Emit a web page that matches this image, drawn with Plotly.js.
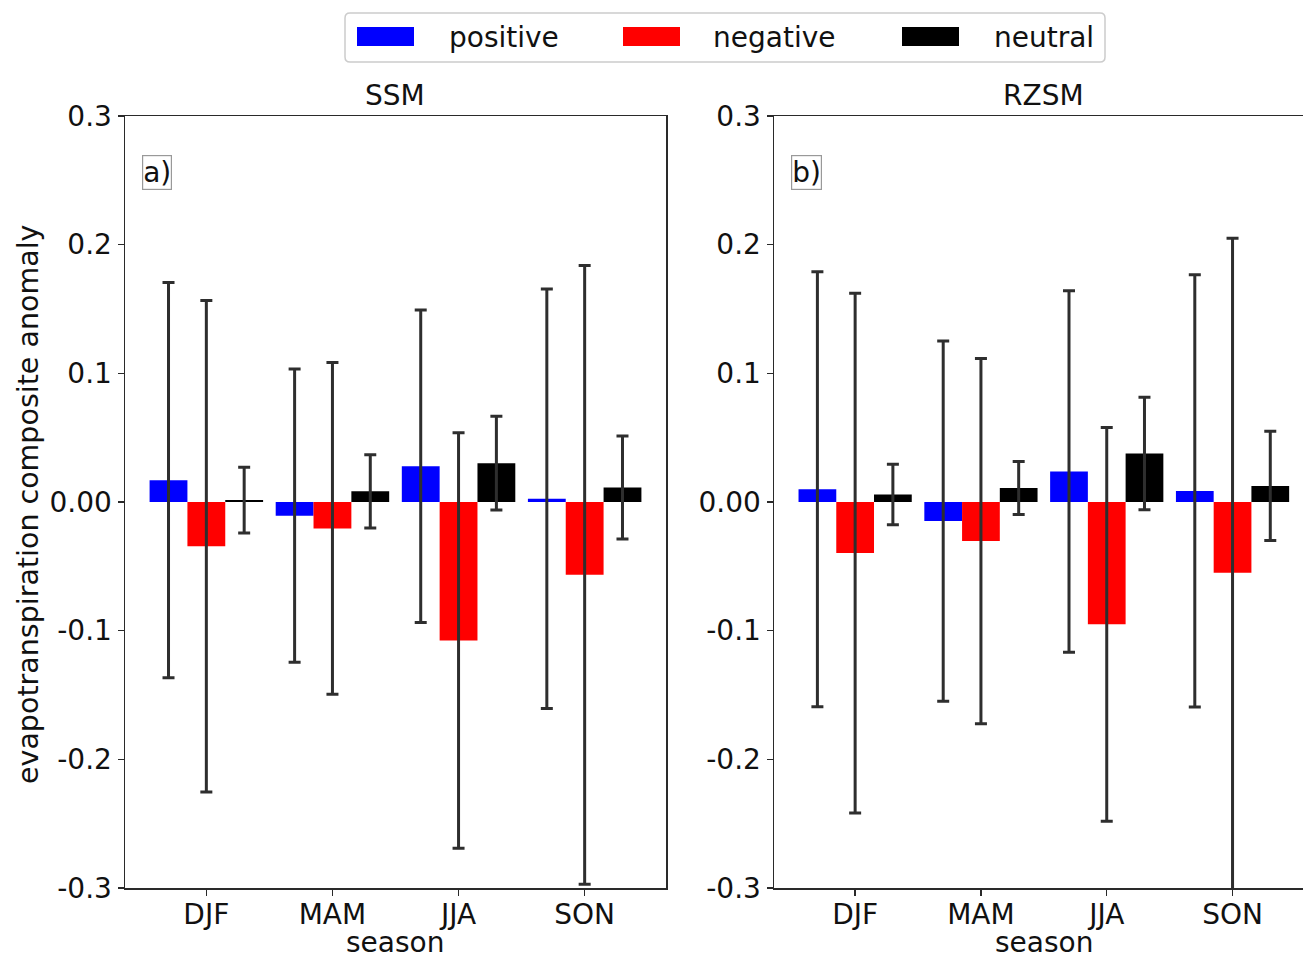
<!DOCTYPE html>
<html>
<head>
<meta charset="utf-8">
<script src="https://cdn.plot.ly/plotly-3.0.1.min.js"></script>
<style>
  html, body { margin: 0; padding: 0; background: #ffffff; }
  #chart { width: 1303px; height: 959px; }
</style>
</head>
<body>
<div id="chart"></div>
<script>
// Seasons on the x axis
const seasons = ["DJF", "MAM", "JJA", "SON"];

// Composite anomalies of evapotranspiration, surface soil moisture (SSM) panel
const ssmPositive = [0.017, -0.0106, 0.0278, 0.0026];
const ssmNegative = [-0.0343, -0.0205, -0.1076, -0.0566];
const ssmNeutral  = [0.0015, 0.0083, 0.0302, 0.0112];
const ssmPositiveErr = [0.1535, 0.114, 0.1215, 0.163];
const ssmNegativeErr = [0.191, 0.129, 0.1615, 0.2405];
const ssmNeutralErr  = [0.0256, 0.0285, 0.0365, 0.040];

// Root-zone soil moisture (RZSM) panel
const rzsmPositive = [0.0099, -0.0148, 0.0237, 0.0086];
const rzsmNegative = [-0.0397, -0.0304, -0.0951, -0.055];
const rzsmNeutral  = [0.0058, 0.0109, 0.0377, 0.0125];
const rzsmPositiveErr = [0.169, 0.140, 0.1405, 0.168];
const rzsmNegativeErr = [0.202, 0.142, 0.153, 0.26];
const rzsmNeutralErr  = [0.0235, 0.0206, 0.0438, 0.0424];

// Y tick labels
const yTickVals = [-0.3, -0.2, -0.1, 0, 0.1, 0.2, 0.3];
const yTickText = ["-0.3", "-0.2", "-0.1", "0.00", "0.1", "0.2", "0.3"];

const groups = [
  { name: "positive", color: "#0000ff" },
  { name: "negative", color: "#ff0000" },
  { name: "neutral",  color: "#000000" }
];

const W = 1303, H = 959;
const px = x => x / W;          // pixel column -> paper x
const py = y => 1 - y / H;      // pixel row -> paper y

const FONT = "DejaVu Sans, Verdana, sans-serif";
const FS = 28;
const AXC = "#2a2a2a";
const TXT = "#111111";

function barTrace(name, color, y, err, xa, ya) {
  return {
    type: "bar",
    name: name,
    x: seasons,
    y: y,
    xaxis: xa,
    yaxis: ya,
    marker: { color: color, line: { width: 0 } },
    error_y: { type: "data", array: err, visible: true, color: "#2e2e2e", thickness: 3, width: 6 },
    showlegend: false,
    hoverinfo: "x+y+name"
  };
}

const data = [
  barTrace("positive", groups[0].color, ssmPositive, ssmPositiveErr, "x", "y"),
  barTrace("negative", groups[1].color, ssmNegative, ssmNegativeErr, "x", "y"),
  barTrace("neutral",  groups[2].color, ssmNeutral,  ssmNeutralErr,  "x", "y"),
  barTrace("positive", groups[0].color, rzsmPositive, rzsmPositiveErr, "x2", "y2"),
  barTrace("negative", groups[1].color, rzsmNegative, rzsmNegativeErr, "x2", "y2"),
  barTrace("neutral",  groups[2].color, rzsmNeutral,  rzsmNeutralErr,  "x2", "y2")
];

const yDomain = [py(888), py(116)];

const xCommon = {
  type: "category",
  showgrid: false,
  zeroline: false,
  showline: true,
  linecolor: AXC,
  linewidth: 1.5,
  ticks: "outside",
  ticklen: 6,
  tickwidth: 1.5,
  tickcolor: AXC,
  ticklabelstandoff: -5,
  tickfont: { family: FONT, size: FS, color: TXT },
  mirror: true,
  fixedrange: true
};
const yCommon = {
  range: [-0.3, 0.3],
  domain: yDomain,
  tickvals: yTickVals,
  ticktext: yTickText,
  showgrid: false,
  zeroline: false,
  showline: true,
  linecolor: AXC,
  linewidth: 1.5,
  ticks: "outside",
  ticklen: 6,
  tickwidth: 1.5,
  tickcolor: AXC,
  tickfont: { family: FONT, size: FS, color: TXT },
  fixedrange: true
};

// Legend drawn as shapes and text across the top
const legendBox = { x0: 345, x1: 1105, y0: 13, y1: 62, r: 5 };
function roundedRect(b) {
  const x0 = px(b.x0), x1 = px(b.x1), y0 = py(b.y1), y1 = py(b.y0);
  const rx = b.r / W, ry = b.r / H;
  return "M" + (x0 + rx) + "," + y0 +
    " L" + (x1 - rx) + "," + y0 +
    " Q" + x1 + "," + y0 + " " + x1 + "," + (y0 + ry) +
    " L" + x1 + "," + (y1 - ry) +
    " Q" + x1 + "," + y1 + " " + (x1 - rx) + "," + y1 +
    " L" + (x0 + rx) + "," + y1 +
    " Q" + x0 + "," + y1 + " " + x0 + "," + (y1 - ry) +
    " L" + x0 + "," + (y0 + ry) +
    " Q" + x0 + "," + y0 + " " + (x0 + rx) + "," + y0 + " Z";
}
const legendSwatchX = [357, 623, 902];
const legendTextX = [447, 711, 992];

const shapes = [
  { type: "path", xref: "paper", yref: "paper", path: roundedRect(legendBox),
    line: { color: "#cccccc", width: 1.5 }, fillcolor: "rgba(255,255,255,0.8)" }
];
const annotations = [];
groups.forEach((g, i) => {
  shapes.push({
    type: "rect", xref: "paper", yref: "paper",
    x0: px(legendSwatchX[i]), x1: px(legendSwatchX[i] + 57),
    y0: py(46), y1: py(27),
    fillcolor: g.color, line: { width: 0 }
  });
  annotations.push({
    xref: "paper", yref: "paper", x: px(legendTextX[i]), y: py(38),
    xanchor: "left", yanchor: "middle", showarrow: false,
    text: g.name, font: { family: FONT, size: FS, color: TXT }
  });
});

// Panel titles
annotations.push({ xref: "paper", yref: "paper", x: px(395.5), y: py(96), xanchor: "center", yanchor: "middle",
  showarrow: false, text: "SSM", font: { family: FONT, size: FS, color: TXT } });
annotations.push({ xref: "paper", yref: "paper", x: px(1043.5), y: py(96), xanchor: "center", yanchor: "middle",
  showarrow: false, text: "RZSM", font: { family: FONT, size: FS, color: TXT } });

// Panel letters in small boxes
annotations.push({ xref: "paper", yref: "paper", x: px(142), y: py(172), xanchor: "left", yanchor: "middle",
  showarrow: false, text: "a)", font: { family: FONT, size: FS, color: TXT },
  bordercolor: "#999999", borderwidth: 1.2, borderpad: 0, bgcolor: "#ffffff" });
annotations.push({ xref: "paper", yref: "paper", x: px(791), y: py(172), xanchor: "left", yanchor: "middle",
  showarrow: false, text: "b)", font: { family: FONT, size: FS, color: TXT },
  bordercolor: "#999999", borderwidth: 1.2, borderpad: 0, bgcolor: "#ffffff" });

// Axis titles
annotations.push({ xref: "paper", yref: "paper", x: px(28), y: py(504), xanchor: "center", yanchor: "middle",
  textangle: -90, showarrow: false, text: "evapotranspiration composite anomaly",
  font: { family: FONT, size: 28.5, color: TXT } });
annotations.push({ xref: "paper", yref: "paper", x: px(395.5), y: py(942), xanchor: "center", yanchor: "middle",
  showarrow: false, text: "season", font: { family: FONT, size: FS, color: TXT } });
annotations.push({ xref: "paper", yref: "paper", x: px(1043.5), y: py(942), xanchor: "center", yanchor: "middle",
  showarrow: false, text: "season", font: { family: FONT, size: FS, color: TXT } });

const layout = {
  width: W,
  height: H,
  margin: { l: 0, r: 0, t: 0, b: 0 },
  paper_bgcolor: "#ffffff",
  plot_bgcolor: "#ffffff",
  barmode: "group",
  bargap: 0.1,
  bargroupgap: 0,
  showlegend: false,
  font: { family: FONT, size: FS, color: TXT },
  xaxis: Object.assign({}, xCommon, { domain: [px(125), px(666)], range: [-0.645, 3.645], anchor: "y" }),
  yaxis: Object.assign({}, yCommon, { anchor: "x", mirror: true }),
  // right panel runs past the page edge, so only its top line is mirrored
  xaxis2: Object.assign({}, xCommon, { domain: [px(774), 1], range: [-0.645, -0.645 + 529 / 125.8], anchor: "y2" }),
  yaxis2: Object.assign({}, yCommon, { anchor: "x2", mirror: false }),
  shapes: shapes,
  annotations: annotations
};

Plotly.newPlot("chart", data, layout, { displayModeBar: false, staticPlot: true });
</script>
</body>
</html>
